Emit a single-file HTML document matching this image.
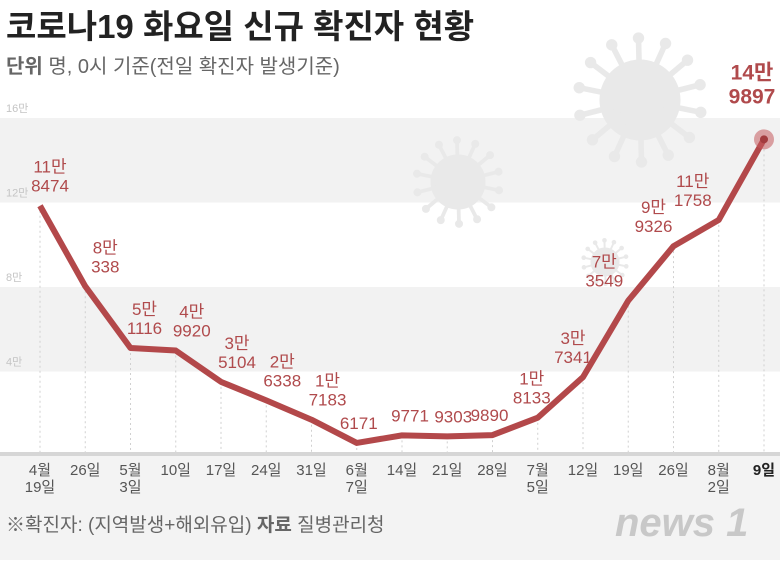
<!DOCTYPE html>
<html><head><meta charset="utf-8"><style>
body{margin:0;width:780px;height:560px;overflow:hidden;background:#fff;font-family:"Liberation Sans","Noto Sans CJK KR",sans-serif;}
svg text{font-family:"Liberation Sans","Noto Sans CJK KR",sans-serif;}
</style></head><body>
<svg id="chart" width="780" height="560" xmlns="http://www.w3.org/2000/svg">
<rect x="0" y="455" width="780" height="105" fill="#f3f3f3"/>
<g id="bands"></g>
<g id="viruses"></g>
<g id="grid"></g>
<g id="marks"></g>
<g id="labels"></g>
<g id="xaxis"></g>
<text x="6" y="38" font-size="33" font-weight="bold" fill="#222">코로나19 화요일 신규 확진자 현황</text>
<text x="6" y="73" font-size="20" fill="#666"><tspan font-weight="bold">단위</tspan>  명, 0시 기준(전일 확진자 발생기준)</text>
<text x="6" y="531" font-size="19" fill="#666">※확진자: (지역발생+해외유입)  <tspan font-weight="bold">자료</tspan> 질병관리청</text>
<text x="615" y="536" font-size="40" font-weight="bold" font-style="italic" fill="#c8c8c8">news 1</text>
</svg>
<script>
const categories=[["4월","19일"],["26일"],["5월","3일"],["10일"],["17일"],["24일"],["31일"],["6월","7일"],["14일"],["21일"],["28일"],["7월","5일"],["12일"],["19일"],["26일"],["8월","2일"],["9일"]];
const values=[118474,80338,51116,49920,35104,26338,17183,6171,9771,9303,9890,18133,37341,73549,99326,111758,149897];
const valueLabels=[["11만","8474"],["8만","338"],["5만","1116"],["4만","9920"],["3만","5104"],["2만","6338"],["1만","7183"],["","6171"],["","9771"],["","9303"],["","9890"],["1만","8133"],["3만","7341"],["7만","3549"],["9만","9326"],["11만","1758"],["14만","9897"]];
const yTicks=[40000,80000,120000,160000];
const yTickLabels=["4만","8만","12만","16만"];
const NS="http://www.w3.org/2000/svg";
const x0=40,x1=764,yBase=456,pxPer=84.5/40000;
const xs=i=>x0+i*(x1-x0)/(categories.length-1);
const ys=v=>yBase-v*pxPer;
const labelDx=[10,20,14,16,16,16,16,2,8,6,-3,-6,-10,-24,-20,-26,-12];
function el(t,a,p){const e=document.createElementNS(NS,t);for(const k in a)e.setAttribute(k,a[k]);p.appendChild(e);return e;}
const g=id=>document.getElementById(id);
for(let i=0;i<yTicks.length;i++){
  if(i%2===0){const r=el('rect',{x:0,y:ys(yTicks[i+1]),width:780,height:ys(yTicks[i])-ys(yTicks[i+1]),fill:'#f2f2f2'},g('bands'));
  
  }
  const t=el('text',{x:6,y:ys(yTicks[i])-6,'font-size':11,fill:'#c4c4c4'},g('grid'));t.textContent=yTickLabels[i];
  
  
}
function virus(cx,cy,r){const grp=el('g',{fill:'#e9e9e9',stroke:'#e9e9e9'},g('viruses'));
  
  
  el('circle',{cx:cx,cy:cy,r:r},grp);
  for(let k=0;k<14;k++){const a=k*Math.PI*2/14+0.2;const L=r*1.55;
    el('line',{x1:cx,y1:cy,x2:cx+Math.cos(a)*L,y2:cy+Math.sin(a)*L,'stroke-width':r*0.14,'stroke-linecap':'round'},grp);
    el('circle',{cx:cx+Math.cos(a)*L,cy:cy+Math.sin(a)*L,r:r*0.13},grp);}
}
virus(640,100,40);virus(458,182,27);virus(605,262,14);
const ax=el('rect',{x:0,y:452,width:780,height:4,fill:'#d6d6d6'},g('xaxis'));


values.forEach((v,i)=>{
  const d=el('line',{x1:xs(i),x2:xs(i),y1:ys(v),y2:452,stroke:'#d0d0d0','stroke-dasharray':'2,3','stroke-width':1},g('grid'));
  
  
  const t=el('text',{x:xs(i),y:475,'font-size':15,fill:'#555','text-anchor':'middle','font-weight':i===values.length-1?'bold':'normal'},g('xaxis'));
  
  
  categories[i].forEach((s,j)=>{const ts=el('tspan',{x:xs(i),dy:j?17:0},t);ts.textContent=s;if(i===values.length-1)ts.setAttribute('fill','#222');});
});
const pts=values.map((v,i)=>xs(i)+','+ys(v)).join(' ');
const line=el('polyline',{points:pts,fill:'none',stroke:'#b3484a','stroke-width':6,'stroke-linejoin':'round'},g('marks'));


const li=values.length-1;
const dot=el('circle',{cx:xs(li),cy:ys(values[li]),r:10,fill:'#c45a5c','fill-opacity':0.55},g('marks'));


el('circle',{cx:xs(li),cy:ys(values[li]),r:4,fill:'#a33b3e'},g('marks'));
values.forEach((v,i)=>{
  const last=i===li;
  const cx=xs(i)+labelDx[i],base=ys(v)-(last?36:14);
  const t=el('text',{x:cx,y:base,'font-size':last?21:17,fill:'#b04a4c','text-anchor':'middle','font-weight':last?'bold':'normal'},g('labels'));
  
  
  const [a,b]=valueLabels[i];
  if(a){const t1=el('tspan',{x:cx,dy:last?-24:-19},t);t1.textContent=a;const t2=el('tspan',{x:cx,dy:last?24:19},t);t2.textContent=b;}
  else{const t2=el('tspan',{x:cx,dy:0},t);t2.textContent=b;}
});
</script>
</body></html>
